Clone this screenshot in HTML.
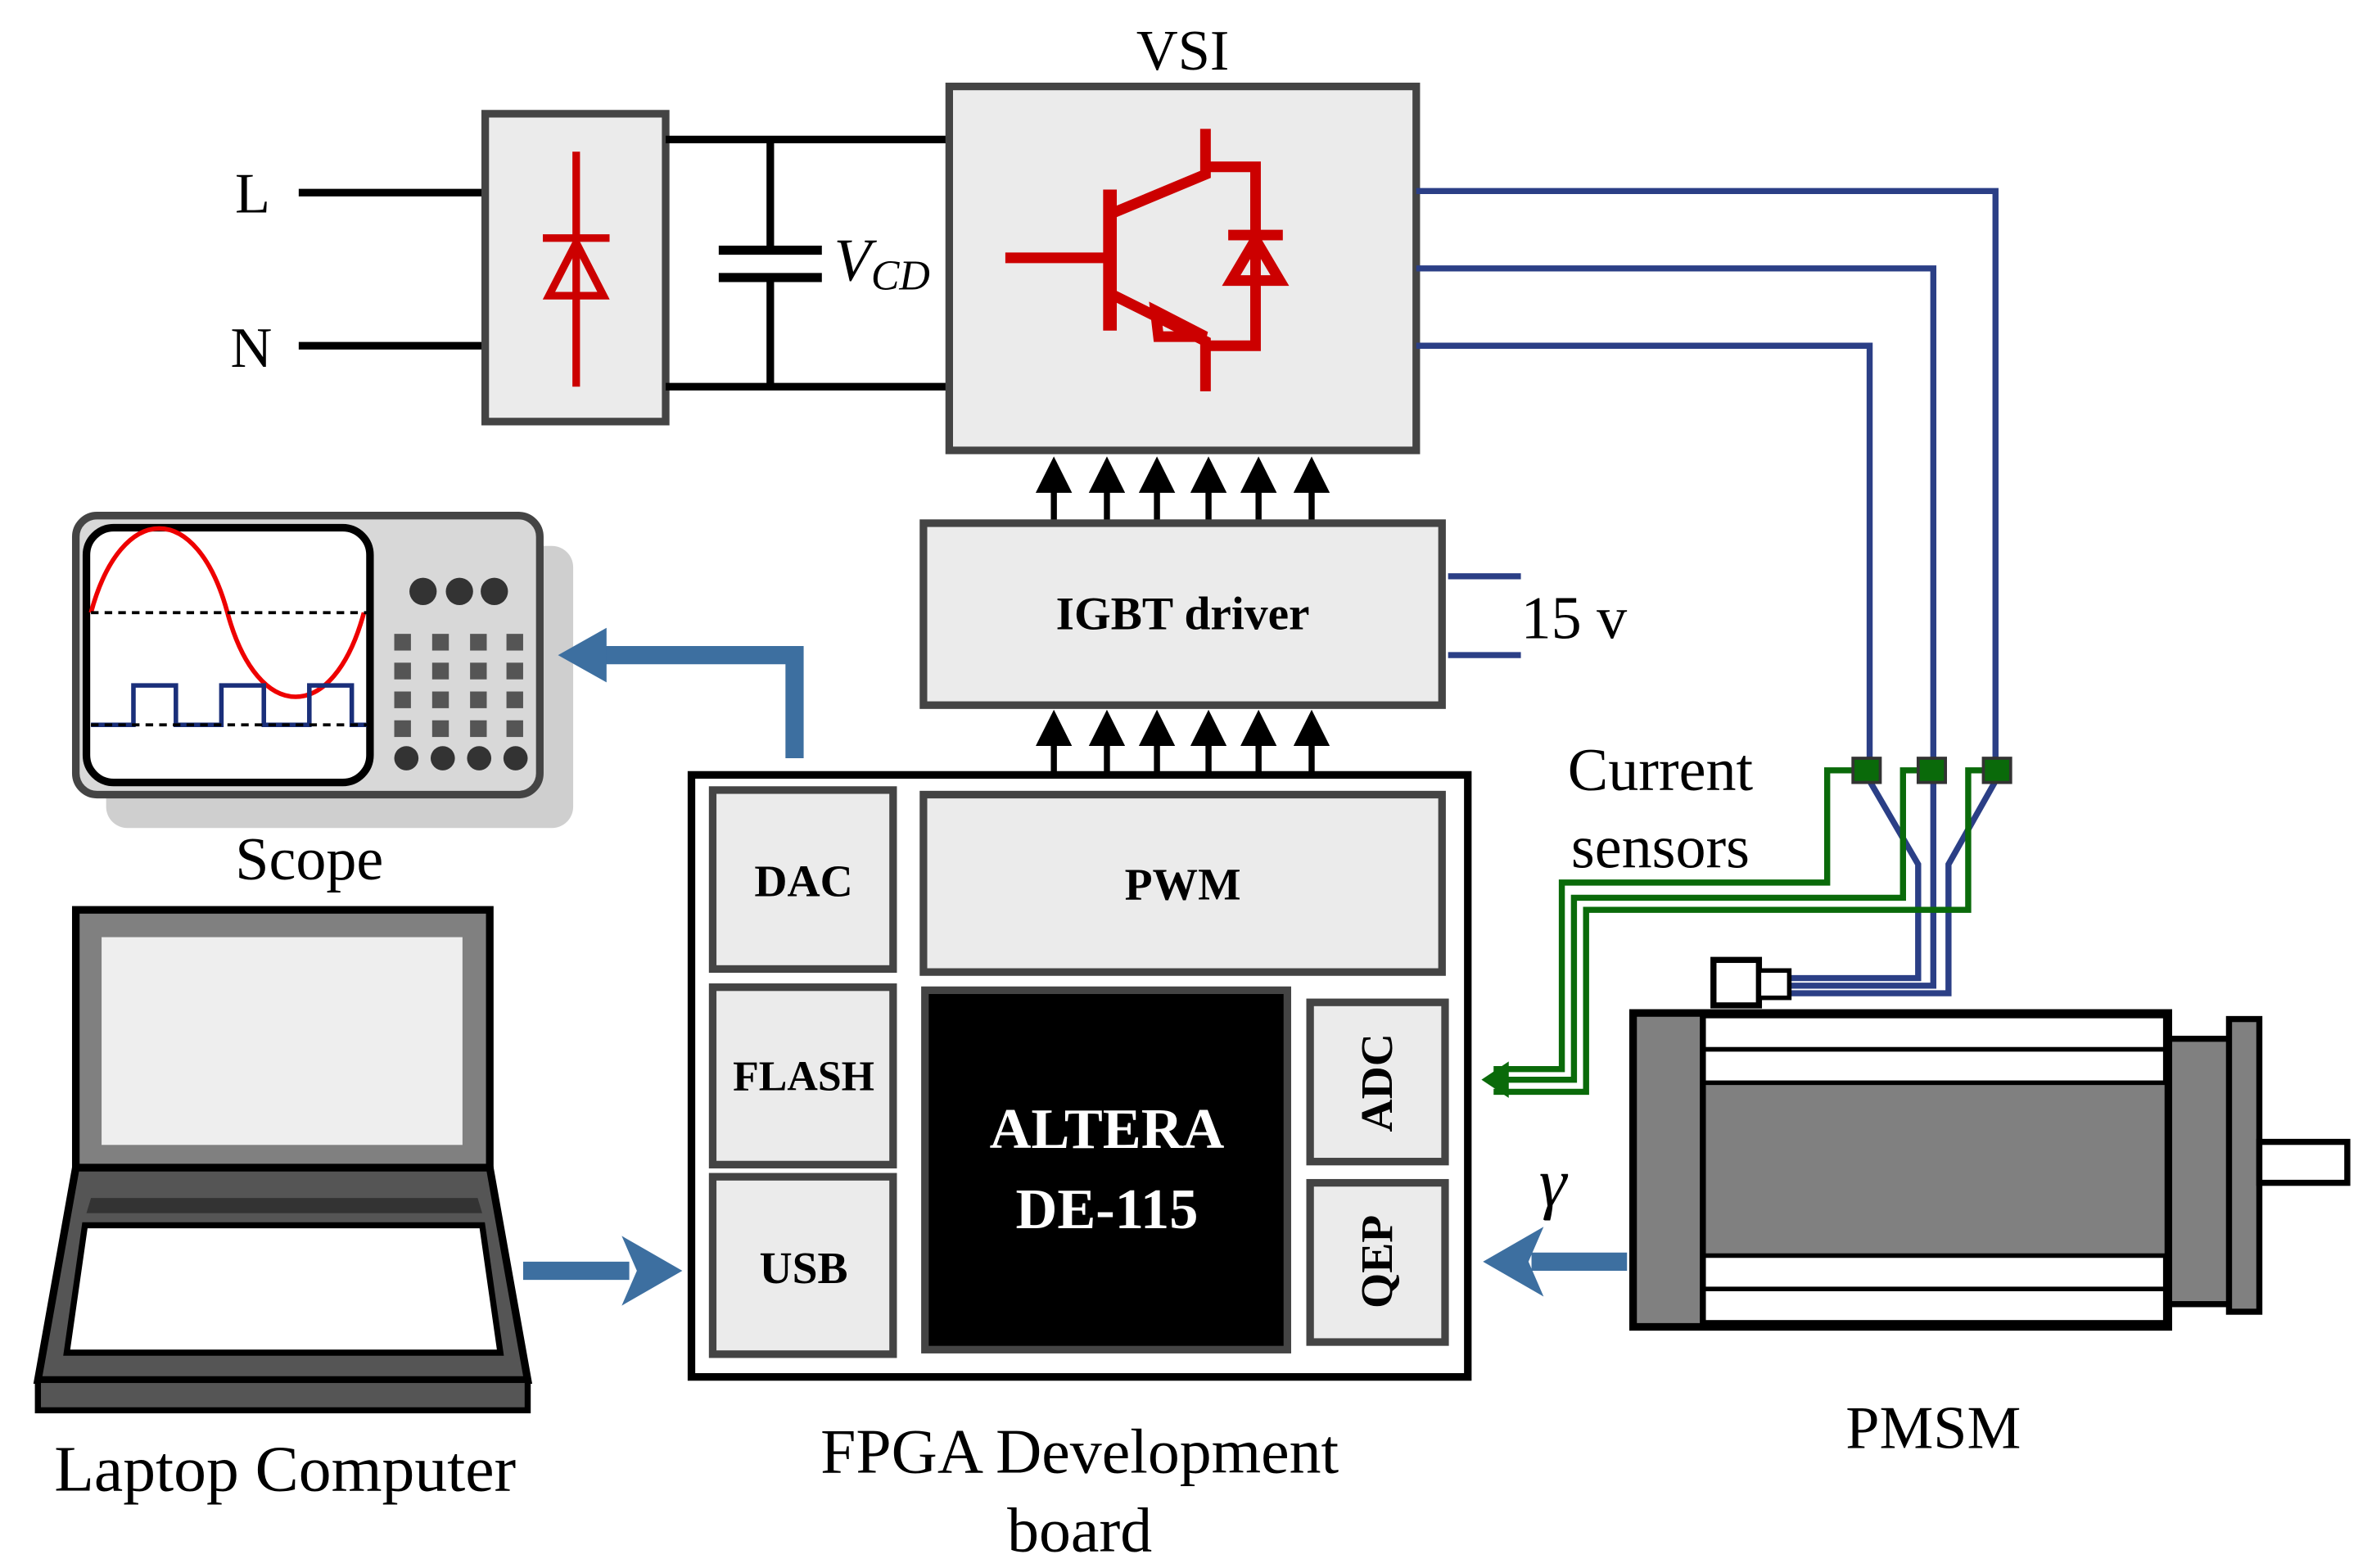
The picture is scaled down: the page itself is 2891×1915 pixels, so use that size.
<!DOCTYPE html>
<html><head><meta charset="utf-8"><style>
html,body{margin:0;padding:0;background:#fff;width:2891px;height:1915px;overflow:hidden}
svg{display:block}
text{font-family:"Liberation Serif",serif}
</style></head><body>
<svg width="2891" height="1915" viewBox="0 0 1561 1034" preserveAspectRatio="none" xmlns="http://www.w3.org/2000/svg">
<defs>
<marker id="ab" markerWidth="6" markerHeight="6" refX="5" refY="3" orient="auto" markerUnits="strokeWidth"><path d="M0,0 L6,3 L0,6 z" fill="#000"/></marker>
</defs>
<text x="155" y="140" font-size="38">L</text>
<text x="152" y="242" font-size="38">N</text>
<line x1="197" y1="127" x2="322" y2="127" stroke="#000" stroke-width="5"/>
<line x1="197" y1="228" x2="322" y2="228" stroke="#000" stroke-width="5"/>
<rect x="320" y="75" width="119" height="203" fill="#ebebeb" stroke="#444" stroke-width="5"/>
<line x1="380" y1="100" x2="380" y2="255" stroke="#c00" stroke-width="5"/>
<line x1="358" y1="157" x2="402" y2="157" stroke="#c00" stroke-width="5"/>
<path d="M362,195 L398,195 L380,160 z" fill="none" stroke="#c00" stroke-width="5"/>
<line x1="439" y1="92" x2="627" y2="92" stroke="#000" stroke-width="5"/>
<line x1="439" y1="255" x2="627" y2="255" stroke="#000" stroke-width="5"/>
<line x1="508" y1="92" x2="508" y2="165" stroke="#000" stroke-width="5"/>
<line x1="508" y1="183" x2="508" y2="255" stroke="#000" stroke-width="5"/>
<line x1="474" y1="165" x2="542" y2="165" stroke="#000" stroke-width="6"/>
<line x1="474" y1="183" x2="542" y2="183" stroke="#000" stroke-width="6"/>
<text x="550" y="185" font-size="40" font-style="italic">V<tspan font-size="28" dy="6">CD</tspan></text>
<text x="780" y="46" font-size="38" text-anchor="middle">VSI</text>
<rect x="626" y="57" width="308" height="240" fill="#ebebeb" stroke="#444" stroke-width="5"/>
<g stroke="#c00" stroke-width="7" fill="none">
<line x1="663" y1="170" x2="730" y2="170"/>
<line x1="732" y1="125" x2="732" y2="218" stroke-width="9"/>
<polyline points="735,140 795,115 795,85"/>
<polyline points="735,195 795,225 795,258"/>
<polyline points="795,110 828,110 828,228 795,228"/>
<line x1="810" y1="155" x2="846" y2="155"/>
<path d="M812,185 L844,185 L828,158 z"/>
<path d="M762,205 L795,222 L764,222 z"/>
</g>
<g stroke="#2b3f86" stroke-width="4" fill="none">
<polyline points="934,126 1316,126 1316,503"/>
<polyline points="934,177 1275,177 1275,503"/>
<polyline points="934,228 1233,228 1233,503"/>
<polyline points="1316,515 1285,570 1285,655 1180,655"/>
<polyline points="1275,515 1275,650 1180,650"/>
<polyline points="1233,515 1265,570 1265,645 1180,645"/>
</g>
<g stroke="#000" stroke-width="4" marker-end="url(#ab)">
<line x1="695" y1="345" x2="695" y2="305"/><line x1="730" y1="345" x2="730" y2="305"/><line x1="763" y1="345" x2="763" y2="305"/><line x1="797" y1="345" x2="797" y2="305"/><line x1="830" y1="345" x2="830" y2="305"/><line x1="865" y1="345" x2="865" y2="305"/>
<line x1="695" y1="512" x2="695" y2="472"/><line x1="730" y1="512" x2="730" y2="472"/><line x1="763" y1="512" x2="763" y2="472"/><line x1="797" y1="512" x2="797" y2="472"/><line x1="830" y1="512" x2="830" y2="472"/><line x1="865" y1="512" x2="865" y2="472"/>
</g>
<rect x="609" y="345" width="342" height="120" fill="#ebebeb" stroke="#444" stroke-width="5"/>
<text x="780" y="415" font-size="31" font-weight="bold" text-anchor="middle">IGBT driver</text>
<line x1="955" y1="380" x2="1003" y2="380" stroke="#2b3f86" stroke-width="4"/>
<line x1="955" y1="432" x2="1003" y2="432" stroke="#2b3f86" stroke-width="4"/>
<text x="1003" y="421" font-size="40">15 v</text>
<rect x="456" y="511" width="512" height="397" fill="#fff" stroke="#000" stroke-width="5"/>
<g fill="#ebebeb" stroke="#444" stroke-width="5">
<rect x="470" y="521" width="119" height="118"/>
<rect x="609" y="524" width="342" height="117"/>
<rect x="470" y="651" width="119" height="117"/>
<rect x="470" y="776" width="119" height="117"/>
<rect x="864" y="661" width="89" height="105"/>
<rect x="864" y="780" width="89" height="105"/>
</g>
<rect x="610" y="653" width="239" height="237" fill="#000" stroke="#444" stroke-width="5"/>
<g font-weight="bold" text-anchor="middle">
<text x="530" y="591" font-size="30">DAC</text>
<text x="780" y="593" font-size="30">PWM</text>
<text x="530" y="719" font-size="28">FLASH</text>
<text x="530" y="846" font-size="30">USB</text>
<text x="730" y="757" font-size="38" fill="#fff">ALTERA</text>
<text x="730" y="810" font-size="38" fill="#fff">DE-115</text>
<text transform="translate(918,714) rotate(-90)" font-size="30">ADC</text>
<text transform="translate(918,832) rotate(-90)" font-size="30">QEP</text>
</g>
<rect x="70" y="360" width="308" height="186" rx="14" fill="#cfcfcf"/>
<rect x="50" y="340" width="306" height="184" rx="14" fill="#d8d8d8" stroke="#444" stroke-width="5"/>
<rect x="57" y="348" width="187" height="168" rx="18" fill="#fff" stroke="#000" stroke-width="5"/>
<path d="M60,404 C80,330 130,330 150,404 C170,478 220,478 240,404" fill="none" stroke="#e00" stroke-width="3"/>
<line x1="60" y1="404" x2="242" y2="404" stroke="#000" stroke-width="2" stroke-dasharray="5,4"/>
<polyline points="60,478 88,478 88,452 116,452 116,478 146,478 146,452 174,452 174,478 204,478 204,452 232,452 232,478 242,478" fill="none" stroke="#1a2f7a" stroke-width="3"/>
<line x1="60" y1="478" x2="242" y2="478" stroke="#000" stroke-width="2" stroke-dasharray="5,4"/>
<g fill="#333"><circle cx="279" cy="390" r="9"/><circle cx="303" cy="390" r="9"/><circle cx="326" cy="390" r="9"/>
<circle cx="268" cy="500" r="8"/><circle cx="292" cy="500" r="8"/><circle cx="316" cy="500" r="8"/><circle cx="340" cy="500" r="8"/></g>
<g fill="#555">
<rect x="260" y="418" width="11" height="11"/><rect x="285" y="418" width="11" height="11"/><rect x="310" y="418" width="11" height="11"/><rect x="334" y="418" width="11" height="11"/>
<rect x="260" y="437" width="11" height="11"/><rect x="285" y="437" width="11" height="11"/><rect x="310" y="437" width="11" height="11"/><rect x="334" y="437" width="11" height="11"/>
<rect x="260" y="456" width="11" height="11"/><rect x="285" y="456" width="11" height="11"/><rect x="310" y="456" width="11" height="11"/><rect x="334" y="456" width="11" height="11"/>
<rect x="260" y="475" width="11" height="11"/><rect x="285" y="475" width="11" height="11"/><rect x="310" y="475" width="11" height="11"/><rect x="334" y="475" width="11" height="11"/>
</g>
<text x="204" y="580" font-size="40" text-anchor="middle">Scope</text>
<polyline points="524,500 524,432 395,432" fill="none" stroke="#3d6fa0" stroke-width="12"/>
<path d="M368,432 L400,414 L400,450 z" fill="#3d6fa0"/>
<rect x="50" y="600" width="273" height="170" fill="#808080" stroke="#000" stroke-width="5"/>
<rect x="67" y="618" width="238" height="137" fill="#eee"/>
<path d="M50,770 L323,770 L348,910 L25,910 z" fill="#555" stroke="#000" stroke-width="5"/>
<path d="M60,790 L315,790 L318,800 L57,800 z" fill="#333"/>
<path d="M56,808 L318,808 L330,892 L44,892 z" fill="#fff" stroke="#000" stroke-width="4"/>
<rect x="25" y="910" width="323" height="20" fill="#555" stroke="#000" stroke-width="4"/>
<text x="188" y="983" font-size="43" text-anchor="middle">Laptop Computer</text>
<line x1="345" y1="838" x2="415" y2="838" stroke="#3d6fa0" stroke-width="12"/>
<path d="M450,838 L410,815 L420,838 L410,861 z" fill="#3d6fa0"/>
<rect x="1430" y="685" width="42" height="175" fill="#808080" stroke="#000" stroke-width="4"/>
<rect x="1470" y="672" width="20" height="193" fill="#808080" stroke="#000" stroke-width="4"/>
<rect x="1490" y="753" width="58" height="27" fill="#fff" stroke="#000" stroke-width="4"/>
<rect x="1077" y="668" width="353" height="207" fill="#808080" stroke="#000" stroke-width="5"/>
<rect x="1123" y="670" width="305" height="22" fill="#fff" stroke="#000" stroke-width="3"/>
<rect x="1123" y="692" width="305" height="22" fill="#fff" stroke="#000" stroke-width="3"/>
<rect x="1123" y="828" width="305" height="22" fill="#fff" stroke="#000" stroke-width="3"/>
<rect x="1123" y="850" width="305" height="22" fill="#fff" stroke="#000" stroke-width="3"/>
<line x1="1123" y1="668" x2="1123" y2="875" stroke="#000" stroke-width="4"/>
<rect x="1130" y="633" width="30" height="30" fill="#fff" stroke="#000" stroke-width="4"/>
<rect x="1160" y="640" width="20" height="18" fill="#fff" stroke="#000" stroke-width="3"/>
<text x="1275" y="955" font-size="40" text-anchor="middle">PMSM</text>
<line x1="1073" y1="832" x2="1010" y2="832" stroke="#3d6fa0" stroke-width="12"/>
<path d="M978,832 L1018,809 L1008,832 L1018,855 z" fill="#3d6fa0"/>
<text x="1015" y="795" font-size="46" font-style="italic">γ</text>
<g stroke="#0a6a0a" stroke-width="4" fill="none">
<polyline points="1222,508 1205,508 1205,582 1030,582 1030,705 985,705"/>
<polyline points="1265,508 1255,508 1255,592 1038,592 1038,712 985,712"/>
<polyline points="1308,508 1298,508 1298,600 1046,600 1046,720 985,720"/>
</g>
<path d="M977,712 L995,700 L995,724 z" fill="#0a6a0a"/>
<g fill="#0a6a0a" stroke="#333" stroke-width="2">
<rect x="1222" y="500" width="18" height="16"/><rect x="1265" y="500" width="18" height="16"/><rect x="1308" y="500" width="18" height="16"/>
</g>
<text x="1095" y="521" font-size="40" text-anchor="middle">Current</text>
<text x="1095" y="572" font-size="40" text-anchor="middle">sensors</text>
<text x="712" y="971" font-size="42" text-anchor="middle">FPGA Development</text>
<text x="712" y="1023" font-size="42" text-anchor="middle">board</text>
</svg>
</body></html>
